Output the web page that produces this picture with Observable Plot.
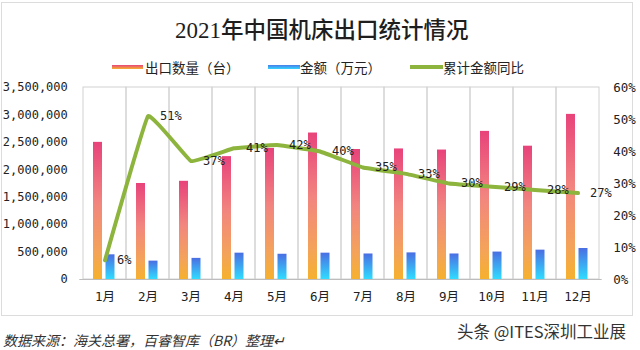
<!DOCTYPE html>
<html>
<head>
<meta charset="utf-8">
<script src="https://cdn.jsdelivr.net/npm/d3@7"></script>
<script src="https://cdn.jsdelivr.net/npm/@observablehq/plot@0.6"></script>
<style>
  html, body { margin: 0; padding: 0; background: #fff; }
  #wrap { position: relative; width: 640px; height: 350px; overflow: hidden; background: #fff; }
  #frame { position: absolute; left: 1px; top: 2px; width: 632px; height: 314px; border: 1px solid #dcdcdc; box-sizing: border-box; }
  #chart { position: absolute; left: 0; top: 0; }
  .abs { position: absolute; white-space: nowrap; z-index: 2; }
  #title { left: 175px; top: 14px; color: #1e1e1e; line-height: 28px; }
  #title .num { font-family: "Liberation Serif", serif; font-size: 23px; }
  #title .cjk { font-family: "Noto Sans CJK SC", sans-serif; font-size: 22.5px; font-weight: 500; }
  .legtext { font-family: "Noto Sans CJK SC", sans-serif; font-size: 13.5px; color: #222; top: 58px; line-height: 18px; }
  .sw { position: absolute; height: 4px; top: 65px; z-index: 2; }
  #foot1 { left: 3px; top: 330px; font-family: "Noto Sans CJK SC", sans-serif; font-size: 14px; font-style: italic; color: #333; line-height: 20px; }
  #foot2 { left: 457px; top: 320px; font-family: "Noto Sans CJK SC", sans-serif; font-size: 16.5px; color: #333; line-height: 22px; }
</style>
</head>
<body>
<div id="wrap">
  <div id="frame"></div>
  <div id="chart"></div>
  <div id="title" class="abs"><span class="num">2021</span><span class="cjk">年中国机床出口统计情况</span></div>
  <div class="sw" style="left:112px;width:31px;background:linear-gradient(#e8457c,#f6b12e);"></div>
  <div class="abs legtext" style="left:145px;">出口数量（台）</div>
  <div class="sw" style="left:268px;width:32px;background:linear-gradient(#4a7be8,#33d6ff);"></div>
  <div class="abs legtext" style="left:300px;">金额（万元）</div>
  <div class="sw" style="left:410px;width:33px;background:#8db43d;"></div>
  <div class="abs legtext" style="left:443px;">累计金额同比</div>
  <div id="foot1" class="abs">数据来源：海关总署，百睿智库（BR）整理↵</div>
  <div id="foot2" class="abs">头条 @ITES深圳工业展</div>
</div>
<script>
const months = ["1月","2月","3月","4月","5月","6月","7月","8月","9月","10月","11月","12月"];
const qty = [2500000,1750000,1790000,2240000,2390000,2670000,2370000,2380000,2360000,2700000,2430000,3010000];
const amount = [450000,335000,385000,480000,460000,480000,465000,485000,465000,500000,535000,565000];
const yoy = [6,51,37,41,42,40,35,33,30,29,28,27];
const leftTicks = [0,500000,1000000,1500000,2000000,2500000,3000000,3500000];
const rightTicks = [0,10,20,30,40,50,60];

const leftMax = leftTicks[leftTicks.length - 1];
const rightMax = rightTicks[rightTicks.length - 1];
const k = leftMax / rightMax;
const idx = months.map((_, i) => i);
const mono = "DejaVu Sans Mono, Noto Sans CJK SC, monospace";

const svg = Plot.plot({
  width: 640,
  height: 320,
  marginTop: 87,
  marginBottom: 41,
  marginLeft: 79.3,
  marginRight: 38.3,
  style: {background: "transparent", fontFamily: mono, fontSize: "12px", color: "#222"},
  x: {type: "band", domain: months, padding: 0},
  y: {domain: [0, leftMax]},
  marks: [
    Plot.barY(months, {x: d => d, y1: 0, y2: leftMax, fill: "none", stroke: "#d2d2d2", strokeWidth: 1}),
    Plot.barY(idx, {x: i => months[i], y: i => qty[i], fill: "url(#gPink)", insetLeft: 10, insetRight: 24}),
    Plot.barY(idx, {x: i => months[i], y: i => amount[i], fill: "url(#gBlue)", insetLeft: 22.5, insetRight: 11.5}),
    Plot.ruleY([0], {stroke: "#bdbdbd"}),
    Plot.axisX({tickSize: 0, tickPadding: 13, label: null, fontSize: 12.5}),
    Plot.axisY(leftTicks, {anchor: "left", tickSize: 0, tickPadding: 12, label: null, tickFormat: d3.format(","), fontSize: 12}),
    Plot.axisY(rightTicks.map(p => p * k), {anchor: "right", tickSize: 0, tickPadding: 11, label: null, tickFormat: d => Math.round(d / k) + "%", fontSize: 12.5}),
    Plot.line(idx, {x: i => months[i], y: i => yoy[i] * k, stroke: "#8db43d", strokeWidth: 4, curve: "cardinal", tension: 0.78}),
    Plot.text(idx, {x: i => months[i], y: i => yoy[i] * k, text: i => yoy[i] + "%", textAnchor: "start", dx: 12, fontSize: 12, fill: "#222"})
  ]
});
svg.insertAdjacentHTML("afterbegin", `<defs>
  <linearGradient id="gPink" x1="0" y1="0" x2="0" y2="1">
    <stop offset="0" stop-color="#e8437b"/>
    <stop offset="0.45" stop-color="#f2867f"/>
    <stop offset="0.8" stop-color="#f4a35a"/>
    <stop offset="1" stop-color="#f6b12d"/>
  </linearGradient>
  <linearGradient id="gBlue" x1="0" y1="0" x2="0" y2="1">
    <stop offset="0" stop-color="#4a6ee3"/>
    <stop offset="1" stop-color="#30dcff"/>
  </linearGradient>
</defs>`);
document.getElementById("chart").appendChild(svg);
</script>
</body>
</html>
